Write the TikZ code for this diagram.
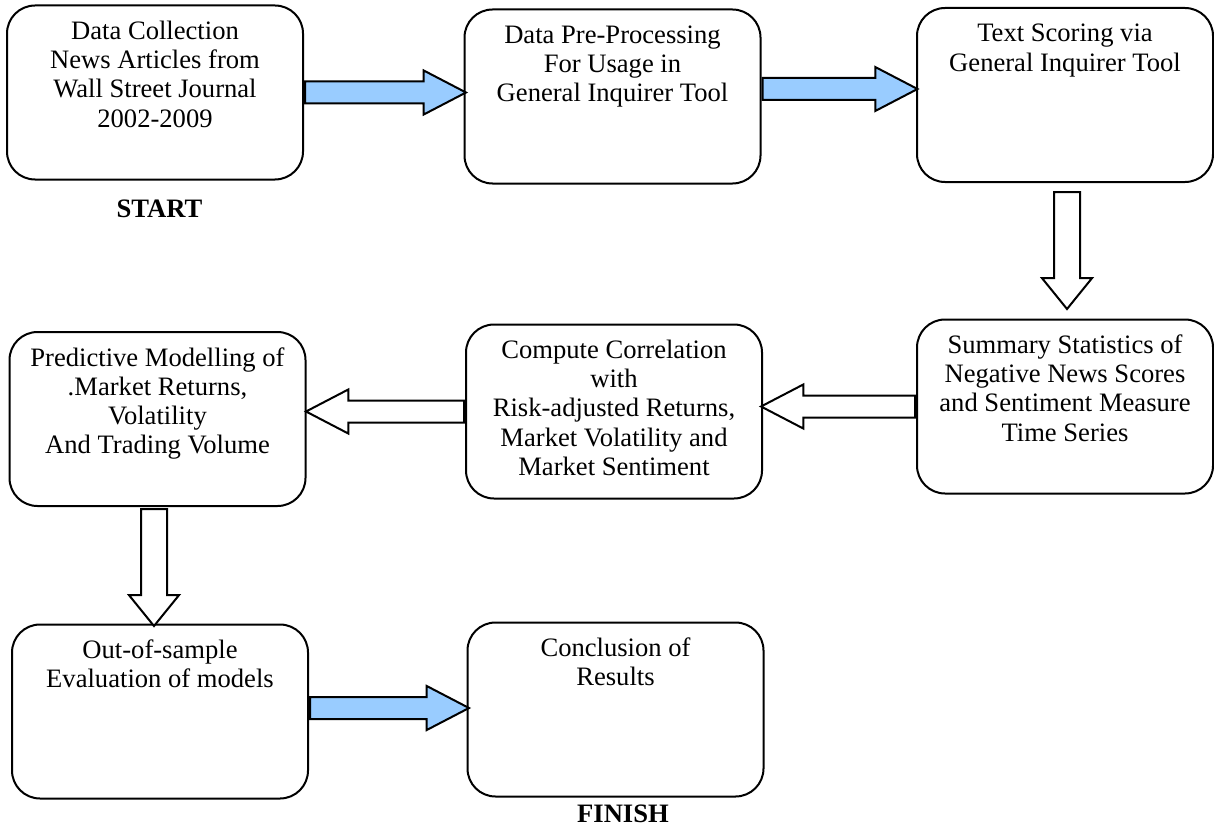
\documentclass[tikz,border=0pt]{standalone}
\usepackage{fontspec}
\setmainfont{Liberation Serif}
\usepackage{tikz}
\definecolor{white}{rgb}{1.0, 1.0, 1.0}
\definecolor{black}{rgb}{0.0, 0.0, 0.0}
\definecolor{lblue}{RGB}{153, 204, 255}
\usetikzlibrary{shapes.arrows}
\pgfdeclarelayer{edgelayer}
\pgfdeclarelayer{nodelayer}
\pgfsetlayers{edgelayer,nodelayer,main}
\tikzstyle{box}=[draw=black,fill=white,line width=1pt,rounded corners=14pt,text width=148pt,inner xsep=0pt,inner ysep=7pt,text height=10pt,text depth=63pt,align=flush center,font=\fontsize{13.3pt}{14.6pt}\selectfont]
\tikzstyle{tag}=[font=\fontsize{13.3pt}{14.6pt}\selectfont\bfseries]
\tikzstyle{harrow}=[single arrow,draw=black,line width=1pt,inner xsep=0pt,inner ysep=5pt,single arrow head extend=5.5pt,single arrow tip angle=55,minimum width=0pt,anchor=tail]
\tikzstyle{varrow}=[single arrow,draw=black,line width=1pt,fill=white,inner xsep=0pt,inner ysep=6pt,single arrow head extend=6pt,single arrow tip angle=78,minimum width=0pt,anchor=tail,rotate=-90]

\begin{document}
\begin{tikzpicture}[x=0.5pt,y=-0.5pt]
        \useasboundingbox (0,0) rectangle (1214,829);
        \begin{pgfonlayer}{nodelayer}
            \node [style = box] (data) at (155, 92.5) {Data Collection\\News Articles from\\Wall Street Journal\\2002-2009};
            \node [style = box] (prep) at (612.5, 96.5) {Data Pre-Processing\\For Usage in\\General Inquirer Tool};
            \node [style = box] (score) at (1065, 95) {Text Scoring via\\General Inquirer Tool};
            \node [style = box] (summary) at (1065, 406.5) {Summary Statistics of\\Negative News Scores\\and Sentiment Measure\\Time Series};
            \node [style = box] (corr) at (614, 411.5) {Compute Correlation\\with\\Risk-adjusted Returns,\\Market Volatility and\\Market Sentiment};
            \node [style = box] (model) at (157.5, 419) {Predictive Modelling of\\.Market Returns,\\Volatility\\And Trading Volume};
            \node [style = box] (eval) at (160, 711.5) {Out-of-sample\\Evaluation of models};
            \node [style = box] (concl) at (615.5, 709.5) {Conclusion of\\Results};
            \node [style = tag] (start) at (159.5, 208.5) {START};
            \node [style = tag] (finish) at (623, 813.5) {FINISH};
        \end{pgfonlayer}

        \begin{pgfonlayer}{main}
            \path (data.east) -- (prep.west) node [pos=0, harrow, fill=lblue, minimum height=80.5pt] {};
            \path (prep.east) -- (score.west) node [pos=0, yshift=3.75pt, harrow, fill=lblue, minimum height=77.5pt] {};
            \path (score.south) -- (summary.north) node [pos=0, xshift=1pt, yshift=-4pt, varrow, minimum height=58.5pt] {};
            \path (summary.west) -- (corr.east) node [pos=0, harrow, fill=white, rotate=180, minimum height=77pt] {};
            \path (corr.west) -- (model.east) node [pos=0, harrow, fill=white, rotate=180, minimum height=79pt] {};
            \path (model.south) -- (eval.north) node [pos=0, xshift=-1.75pt, yshift=-0.5pt, varrow, minimum height=58.5pt] {};
            \path (eval.east) -- (concl.west) node [pos=0, yshift=1.75pt, harrow, fill=lblue, minimum height=79.5pt] {};
        \end{pgfonlayer}
    \end{tikzpicture}
\end{document}
